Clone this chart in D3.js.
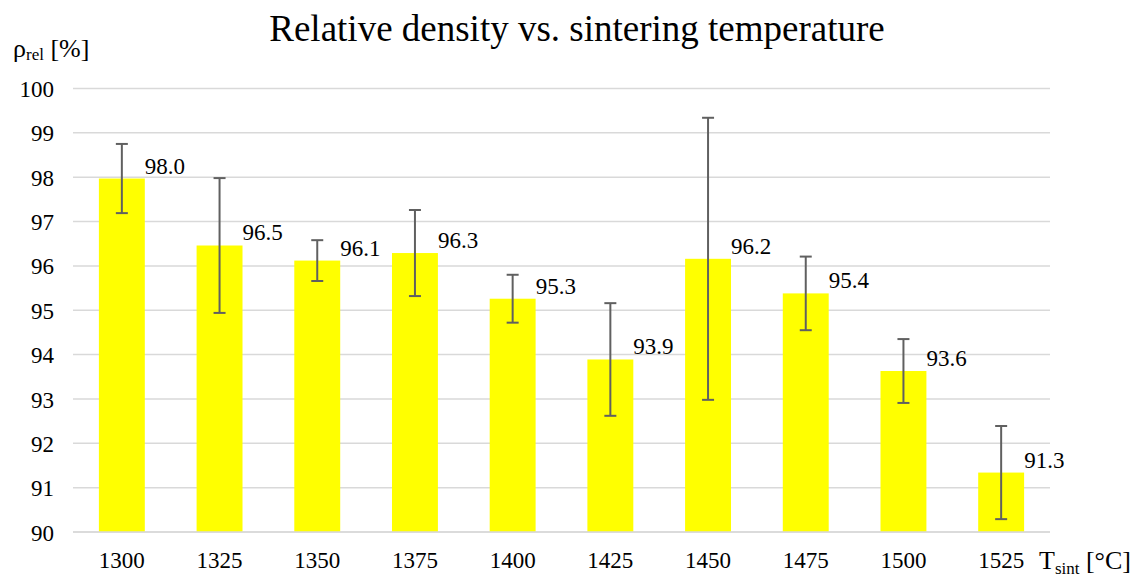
<!DOCTYPE html>
<html><head><meta charset="utf-8">
<script src="https://cdn.jsdelivr.net/npm/d3@7"></script>
<style>body{margin:0;background:#fff}svg{display:block}</style>
</head><body>
<svg id="c" width="1139" height="577"></svg>
<script>
const categories = ["1300","1325","1350","1375","1400","1425","1450","1475","1500","1525"];
const density = [97.97, 96.46, 96.12, 96.29, 95.26, 93.89, 96.16, 95.38, 93.63, 91.34];
const errors = [0.78, 1.52, 0.46, 0.97, 0.54, 1.27, 3.18, 0.83, 0.72, 1.05];
const yTicks = [90, 91, 92, 93, 94, 95, 96, 97, 98, 99, 100];

const FONT = "'Liberation Serif', 'Times New Roman', serif";
const svg = d3.select("#c");
const L = 73, R = 1050, T = 88.5, B = 532;
const x = d3.scaleBand().domain(categories).range([L, R]).paddingInner(0.53).paddingOuter(0.265);
const y = d3.scaleLinear().domain([90, 100]).range([B, T]);

// grid
svg.append("g").selectAll("line").data(yTicks).join("line")
  .attr("x1", L).attr("x2", R).attr("y1", d => y(d)).attr("y2", d => y(d))
  .attr("stroke", "#d9d9d9").attr("stroke-width", 1.5);

// y tick labels
const yAxis = d3.axisLeft(y).tickValues(yTicks).tickSize(0).tickPadding(0);
const gy = svg.append("g").attr("transform", `translate(54,0)`).call(yAxis);
gy.select(".domain").remove();
gy.attr("font-family", null).attr("font-size", null);
gy.selectAll("text").style("font-family", FONT).style("font-size", "23px").attr("fill", "#000").attr("dy", "0.35em");

// x tick labels
const xAxis = d3.axisBottom(x).tickSize(0).tickPadding(0);
const gx = svg.append("g").attr("transform", `translate(0,${B})`).call(xAxis);
gx.select(".domain").remove();
gx.attr("font-family", null).attr("font-size", null);
gx.selectAll("text").style("font-family", FONT).style("font-size", "23px").attr("fill", "#000").attr("y", 36).attr("dy", 0);

// bars
svg.append("g").selectAll("rect").data(density).join("rect")
  .attr("x", (d, i) => x(categories[i])).attr("width", x.bandwidth())
  .attr("y", d => y(d)).attr("height", d => B - y(d)).attr("fill", "#ffff00");

// baseline
svg.append("line").attr("x1", L).attr("x2", R).attr("y1", B).attr("y2", B).attr("stroke", "#d9d9d9").attr("stroke-width", 1.5);

// error bars
const eg = svg.append("g").attr("stroke", "#606060").attr("stroke-width", 2);
density.forEach((d, i) => {
  const cx = x(categories[i]) + x.bandwidth() / 2;
  const y1 = y(d + errors[i]), y2 = y(d - errors[i]);
  eg.append("line").attr("x1", cx).attr("x2", cx).attr("y1", y1).attr("y2", y2);
  eg.append("line").attr("x1", cx - 6).attr("x2", cx + 6).attr("y1", y1).attr("y2", y1);
  eg.append("line").attr("x1", cx - 6).attr("x2", cx + 6).attr("y1", y2).attr("y2", y2);
});

// data labels
svg.append("g").selectAll("text").data(density).join("text")
  .attr("x", (d, i) => x(categories[i]) + x.bandwidth() / 2 + 23)
  .attr("y", d => y(d) - 5)
  .style("font-family", FONT).style("font-size", "23px").attr("fill", "#000")
  .text(d => d3.format(".1f")(d));

// title
svg.append("text").attr("x", 577).attr("y", 41).attr("text-anchor", "middle")
  .style("font-family", FONT).style("font-size", "37px").attr("fill", "#000")
  .text("Relative density vs. sintering temperature");

// y-axis label
const yl = svg.append("text").attr("x", 13).attr("y", 57).style("font-family", FONT).style("font-size", "26px");
yl.append("tspan").text("ρ");
yl.append("tspan").style("font-size", "17px").attr("dy", 3).text("rel");
yl.append("tspan").attr("dy", -3).text(" [%]");

// x-axis label
const xl = svg.append("text").attr("x", 1039).attr("y", 569).style("font-family", FONT).style("font-size", "26px");
xl.append("tspan").text("T");
xl.append("tspan").style("font-size", "17px").attr("dy", 5).text("sint");
xl.append("tspan").attr("dy", -5).text(" [°C]");
</script>
</body></html>
